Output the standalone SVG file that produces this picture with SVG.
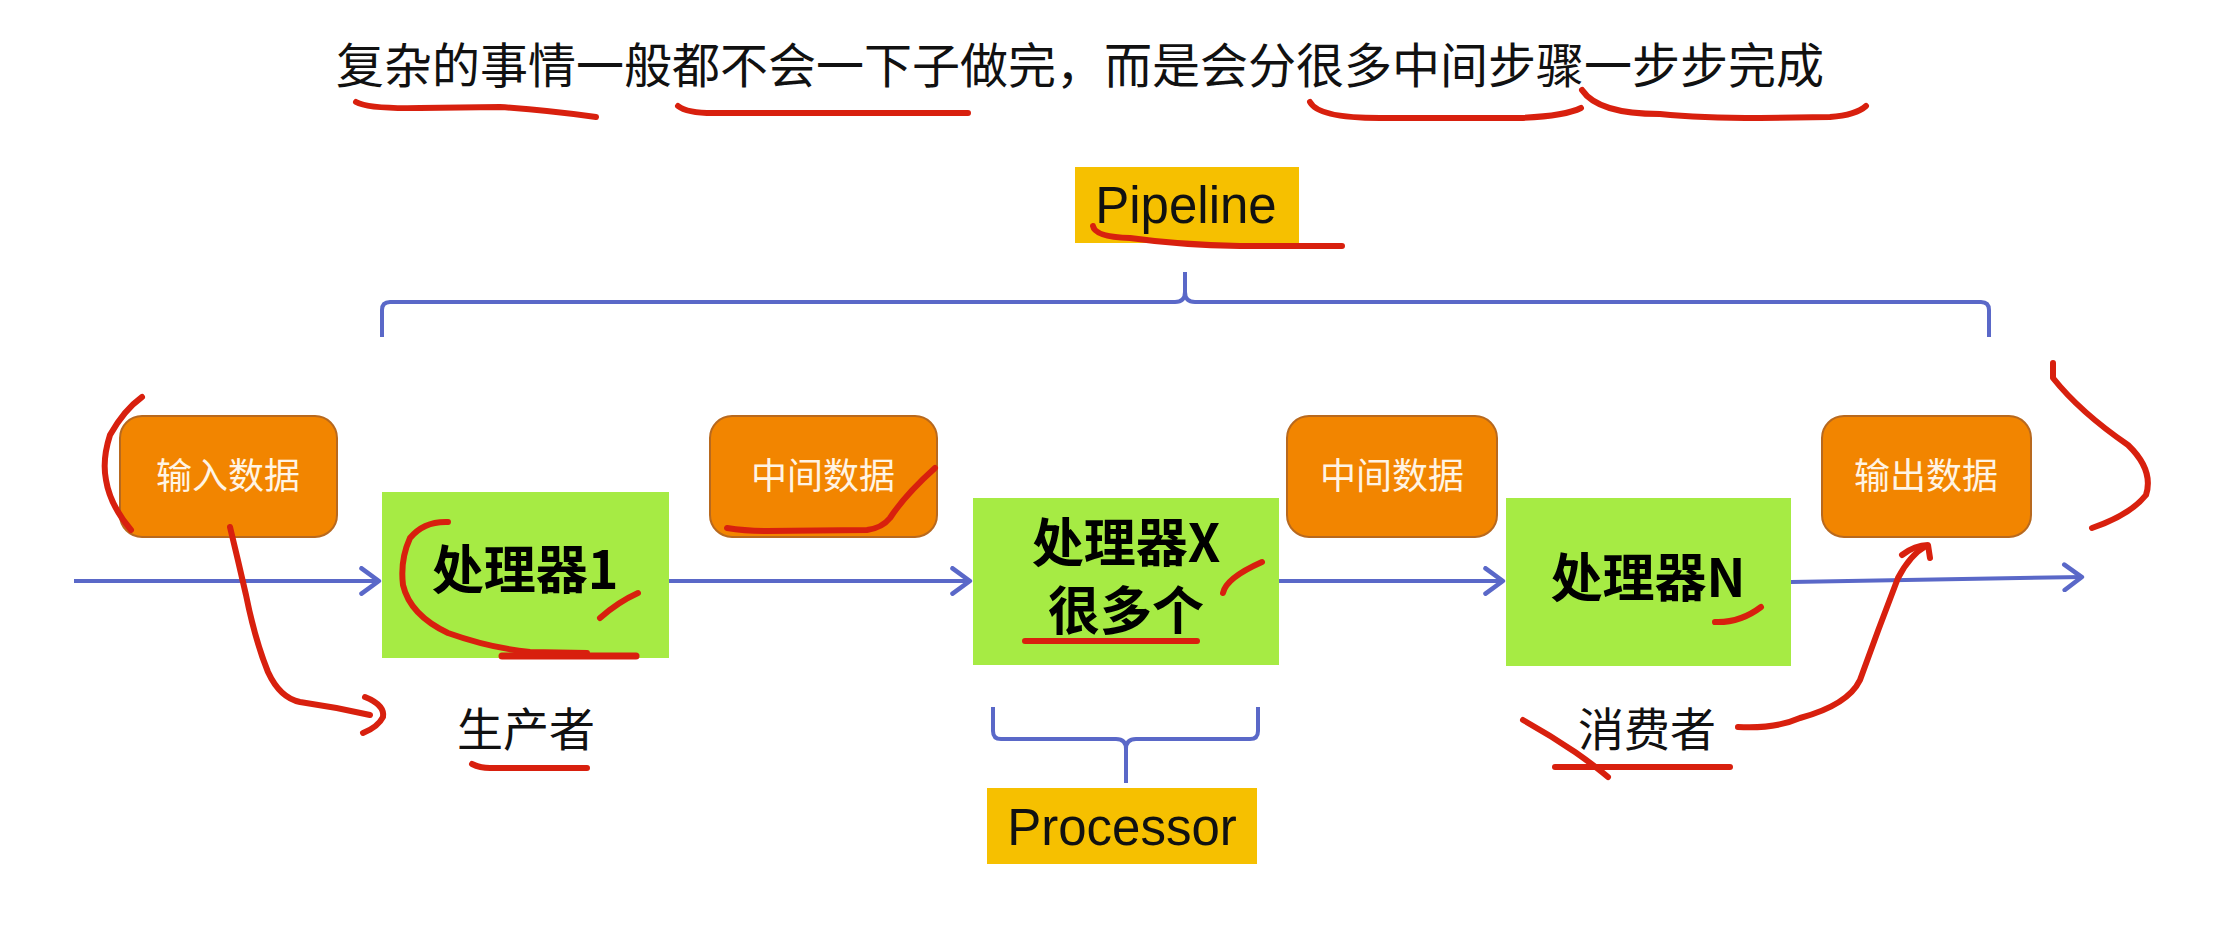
<svg xmlns="http://www.w3.org/2000/svg" width="2238" height="930" viewBox="0 0 2238 930">
<style>
.cjk{font-family:"Noto Sans CJK SC","Noto Sans",sans-serif}
.lat{font-family:"Liberation Sans","Noto Sans CJK SC",sans-serif}
.title{font-size:48px;fill:#111}
.data rect{fill:#F28500;stroke:#B8691E;stroke-width:2}
.data text{font-size:36px;fill:#FFF4E4;text-anchor:middle}
.proc rect{fill:#A6EB44}
.proc text{font-size:52px;font-weight:bold;fill:#000;text-anchor:middle}
.lbl rect{fill:#F6C000}
.lbl text{font-size:51px;fill:#111;text-anchor:middle}
.role{font-size:46px;fill:#111;text-anchor:middle}
.flow{stroke:#5A68C8;stroke-width:4;fill:none}
.ink{stroke:#D8200E;stroke-width:6;fill:none;stroke-linecap:round;stroke-linejoin:round}
</style>
<defs>
<marker id="arr" markerUnits="userSpaceOnUse" markerWidth="30" markerHeight="30" refX="2" refY="13" orient="auto" viewBox="-16 0 20 26">
<path d="M-14,2 L1,13 L-14,24" fill="none" stroke="#5A68C8" stroke-width="4" stroke-linecap="round" stroke-linejoin="round"/>
</marker>
</defs>
<rect width="2238" height="930" fill="#fff"/>
<text id="title" class="cjk title" x="336" y="83">复杂的事情一般都不会一下子做完，而是会分很多中间步骤一步步完成</text>

<g id="pipeline" class="lbl">
<rect x="1075" y="167" width="224" height="76"/>
<text class="lat" x="1186" y="223">Pipeline</text>
</g>

<g id="connectors">
<path class="flow" d="M382,337 L382,310 Q382,302 390,302 L1175,302 Q1185,302 1185,292 L1185,272 M1185,292 Q1185,302 1195,302 L1981,302 Q1989,302 1989,310 L1989,337"/>
<path class="flow" d="M993,707 L993,731 Q993,739 1001,739 L1116,739 Q1126,739 1126,749 L1126,783 M1126,749 Q1126,739 1136,739 L1250,739 Q1258,739 1258,731 L1258,707"/>
<line class="flow" x1="74" y1="581" x2="380" y2="581" marker-end="url(#arr)"/>
<line class="flow" x1="669" y1="581" x2="971" y2="581" marker-end="url(#arr)"/>
<line class="flow" x1="1279" y1="581" x2="1504" y2="581" marker-end="url(#arr)"/>
<line class="flow" x1="1791" y1="582" x2="2083" y2="577" marker-end="url(#arr)"/>
</g>

<g id="input" class="data">
<rect x="120" y="416" width="217" height="121" rx="22"/>
<text class="cjk" x="228" y="489">输入数据</text>
</g>
<g id="proc1" class="proc">
<rect x="382" y="492" width="287" height="166"/>
<text class="cjk" x="525" y="589">处理器1</text>
</g>
<g id="mid1" class="data">
<rect x="710" y="416" width="227" height="121" rx="22"/>
<text class="cjk" x="823" y="489">中间数据</text>
</g>
<g id="procX" class="proc">
<rect x="973" y="498" width="306" height="167"/>
<text class="cjk" x="1126" y="562">处理器X</text>
<text class="cjk" x="1126" y="630">很多个</text>
</g>
<g id="mid2" class="data">
<rect x="1287" y="416" width="210" height="121" rx="22"/>
<text class="cjk" x="1392" y="489">中间数据</text>
</g>
<g id="procN" class="proc">
<rect x="1506" y="498" width="285" height="168"/>
<text class="cjk" x="1648" y="597">处理器N</text>
</g>
<g id="output" class="data">
<rect x="1822" y="416" width="209" height="121" rx="22"/>
<text class="cjk" x="1926" y="489">输出数据</text>
</g>

<g id="processor" class="lbl">
<rect x="987" y="788" width="270" height="76"/>
<text class="lat" x="1122" y="845">Processor</text>
</g>

<text id="producer" class="cjk role" x="526" y="746">生产者</text>
<text id="consumer" class="cjk role" x="1647" y="746">消费者</text>

<g id="annotations">
<path class="ink" d="M356,102 Q368,109 420,108 L500,107 Q545,110 596,117"/>
<path class="ink" d="M678,106 Q688,114 720,113 L968,113"/>
<path class="ink" d="M1310,102 Q1318,118 1380,118 L1520,118 Q1565,116 1581,108"/>
<path class="ink" d="M1582,90 Q1598,114 1660,114 Q1700,118 1760,118 L1830,117 Q1856,115 1866,106"/>
<path class="ink" d="M1093,226 Q1095,237 1130,238 Q1180,245 1240,246 L1342,246"/>
<path class="ink" d="M142,397 Q124,410 110,435 Q102,460 106,480 Q110,505 131,530"/>
<path class="ink" d="M230,527 Q238,560 246,595 Q255,640 268,672 Q280,698 300,702 Q335,707 370,715"/>
<path class="ink" d="M365,697 Q385,705 383,717 Q378,727 363,733"/>
<path class="ink" d="M448,522 Q424,521 410,538 Q400,560 403,585 Q410,615 448,633 Q490,648 530,652 L587,653"/>
<path class="ink" d="M502,656 L636,656" style="stroke-width:7"/>
<path class="ink" d="M600,618 Q618,602 638,593"/>
<path class="ink" d="M727,528 Q745,531 767,531 L867,530 Q882,528 890,518 Q905,495 935,468"/>
<path class="ink" d="M1223,593 Q1226,578 1262,562"/>
<path class="ink" d="M1025,641 L1197,641"/>
<path class="ink" d="M1715,622 Q1740,623 1761,607"/>
<path class="ink" d="M472,764 Q480,768 490,768 L587,768"/>
<path class="ink" d="M1523,720 Q1550,735 1575,752 Q1595,766 1608,777"/>
<path class="ink" d="M1555,767 L1730,767"/>
<path class="ink" d="M1738,727 Q1775,729 1800,718 Q1848,705 1860,680 Q1878,630 1898,578 Q1910,555 1926,546"/>
<path class="ink" d="M1902,555 Q1915,545 1928,545 L1930,558"/>
<path class="ink" d="M2053,363 L2053,378 Q2080,412 2128,445 Q2154,470 2146,495 Q2130,515 2092,528"/>
</g>
</svg>
